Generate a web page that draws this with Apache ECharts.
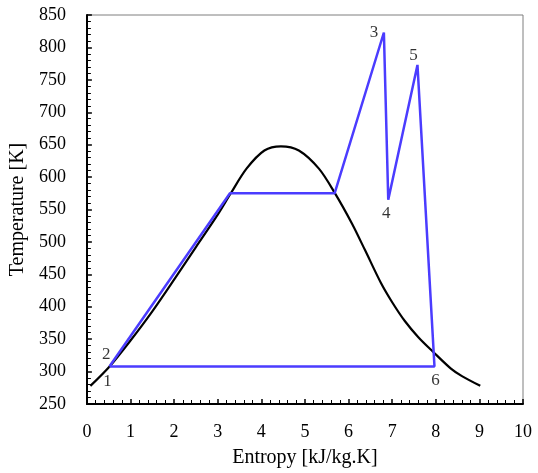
<!DOCTYPE html>
<html><head><meta charset="utf-8">
<script src="https://cdn.jsdelivr.net/npm/echarts@6/dist/echarts.min.js"></script>
<style>html,body{margin:0;padding:0;background:#fff}#c{width:538px;height:473px}</style>
</head><body><div id="c"></div>
<script>
// Saturation dome (black)
const domeS = [0.08, 0.52, 1.0, 1.5, 2.03, 2.5, 3.0, 3.3, 3.66, 4.07, 4.45, 4.86, 5.32, 5.68, 6.08, 6.38, 6.74, 7.0, 7.29, 7.6, 7.93, 8.34, 8.6, 9.02];
const domeT = [278, 308, 348, 393, 445, 492, 542, 575, 613, 641, 647.5, 641, 613, 576, 528, 487, 437, 407, 378, 353, 331, 305, 293, 278];
// Cycle path (blue)
const cycleS = [0.52, 0.56, 3.28, 5.68, 6.81, 6.91, 7.58, 7.97, 0.52];
const cycleT = [308, 312, 575, 575, 823, 565, 773, 308, 308];
// State point labels
const stateNames = ['1', '2', '3', '4', '5', '6'];
const stateS = [0.52, 0.56, 6.81, 6.91, 7.58, 7.97];
const stateT = [308, 312, 823, 565, 773, 308];
const xTicks = [0,1,2,3,4,5,6,7,8,9,10];
const yTicks = [250,300,350,400,450,500,550,600,650,700,750,800,850];

const labelOffsets = [[-2,15],[-5,-9],[-10,0],[-2,14],[-4,-9],[1,14]];
const font = 'Liberation Serif';
const chart = echarts.init(document.getElementById('c'));
chart.setOption({
  animation:false,
  grid:{left:82,right:15,top:15,bottom:64,show:true,borderColor:'#7f7f7f',borderWidth:1},
  xAxis:{type:'value',min:xTicks[0],max:xTicks[xTicks.length-1],interval:1,
    name:'Entropy [kJ/kg.K]',nameLocation:'middle',nameGap:44,
    nameTextStyle:{fontFamily:font,fontSize:20,color:'#000'},
    axisLine:{lineStyle:{color:'#000',width:2}},
    axisTick:{inside:true,length:5,lineStyle:{color:'#000',width:1.5}},
    minorTick:{show:true,splitNumber:5,length:4,lineStyle:{color:'#000',width:1}},
    splitLine:{show:false},
    axisLabel:{fontFamily:font,fontSize:18,color:'#000',margin:19}},
  yAxis:{type:'value',min:yTicks[0],max:yTicks[yTicks.length-1],interval:50,
    name:'Temperature [K]',nameLocation:'middle',nameGap:52,
    nameTextStyle:{fontFamily:font,fontSize:20,color:'#000'},
    axisLine:{show:true,lineStyle:{color:'#000',width:2}},
    axisTick:{inside:true,length:5,lineStyle:{color:'#000',width:1.5}},
    minorTick:{show:true,splitNumber:5,length:4,lineStyle:{color:'#000',width:1}},
    splitLine:{show:false},
    axisLabel:{fontFamily:font,fontSize:18,color:'#000',margin:21}},
  series:[
    {type:'line',data:domeS.map((s,i)=>[s,domeT[i]]),smooth:0.3,showSymbol:false,
     lineStyle:{color:'#000',width:2.2},z:2},
    {type:'line',data:cycleS.map((s,i)=>[s,cycleT[i]]),showSymbol:false,
     lineStyle:{color:'#4B3CFF',width:2.5},z:3},
    {type:'scatter',symbolSize:0,z:4,
     data:stateS.map((s,i)=>({value:[s,stateT[i]],name:stateNames[i],
       label:{show:true,formatter:stateNames[i],position:'inside',offset:labelOffsets[i],
         fontFamily:font,fontSize:17,color:'#000'}}))}
  ]
});
</script></body></html>
